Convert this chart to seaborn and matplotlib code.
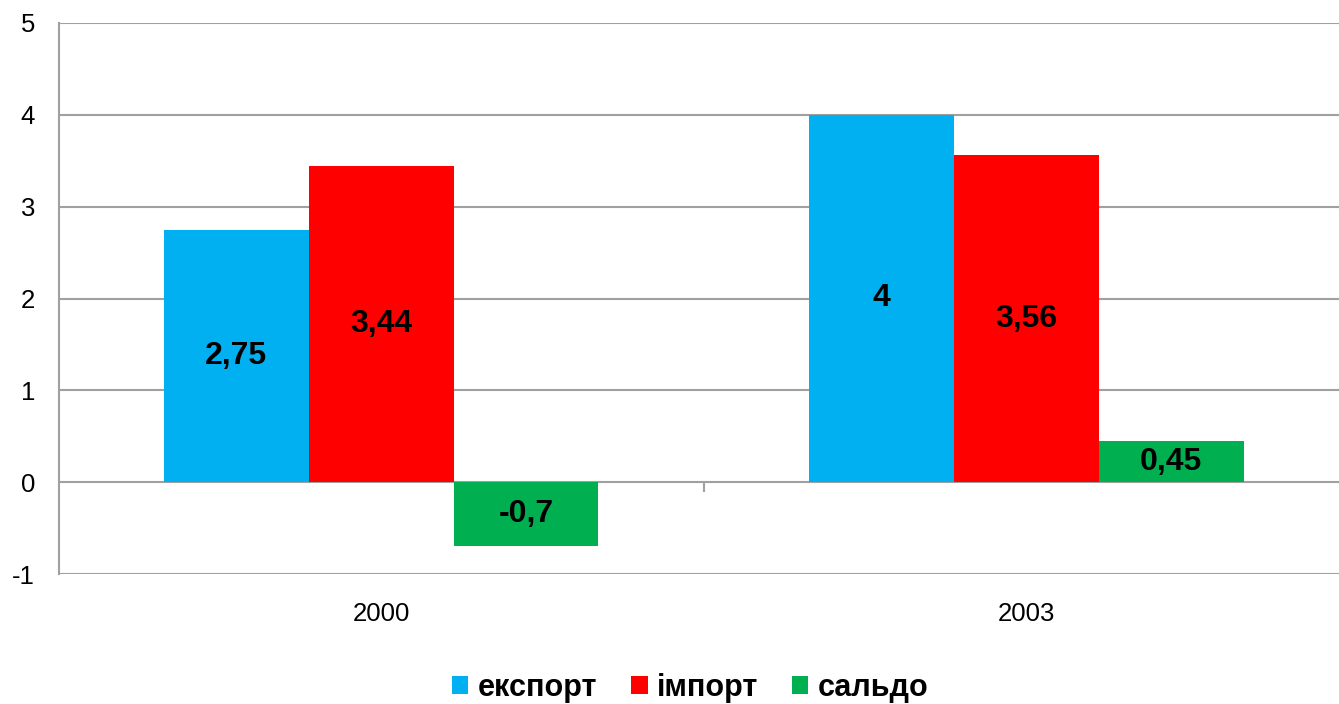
import pandas as pd
import matplotlib.pyplot as plt
import seaborn as sns
from matplotlib.patches import Patch

# Дані з діаграми
years = ['2000', '2003']
series = ['експорт', 'імпорт', 'сальдо']
eksport = [2.75, 4.0]
import_ = [3.44, 3.56]
saldo = [-0.7, 0.45]
colors = ['#00B0F0', '#FF0000', '#00B050']

df = pd.DataFrame({
    'Рік': years * 3,
    'Показник': [s for s in series for _ in years],
    'Значення': eksport + import_ + saldo,
})

sns.set_style('white')
plt.rcParams['font.family'] = ['Liberation Sans', 'DejaVu Sans']
plt.rcParams['axes.unicode_minus'] = False

fig = plt.figure(figsize=(13.39, 7.04), dpi=100)
ax = fig.add_axes([58.5 / 1339, 1 - 574 / 704, (1349 - 58.5) / 1339, (574 - 23) / 704])

sns.barplot(data=df, x='Рік', y='Значення', hue='Показник', palette=colors,
            width=0.673, saturation=1, ax=ax, legend=False, zorder=3, linewidth=0)

ax.set_ylim(-1, 5)
ax.set_xlim(-0.5, 1.5)
ax.set_yticks(range(-1, 6))
ax.grid(axis='y', color='#A0A0A0', lw=1.5, zorder=0)
ax.set_axisbelow(True)
ax.set_xlabel('')
ax.set_ylabel('')

for s in ['top', 'right', 'bottom']:
    ax.spines[s].set_visible(False)
ax.spines['left'].set_color('#A0A0A0')
ax.spines['left'].set_linewidth(1.5)

ax.tick_params(axis='y', length=7, width=1.5, color='#A0A0A0', labelsize=18.5,
               labelcolor='black', pad=10)
ax.tick_params(axis='x', length=0, labelsize=18.5, labelcolor='black', pad=20)

# Поділка між категоріями на лінії нуля
sec = ax.secondary_xaxis((0 - (-1)) / (5 - (-1)))
sec.set_xticks([0.5])
sec.set_xticklabels([''])
sec.tick_params(length=7, width=1.5, color='#A0A0A0', direction='out')
sec.spines['bottom'].set_visible(False)

# Підписи значень
for cont in ax.containers:
    ax.bar_label(cont, labels=[f'{v:g}'.replace('.', ',') for v in cont.datavalues],
                 label_type='center', fontsize=23, fontweight='bold', color='black')

handles = [Patch(facecolor=c, edgecolor='none') for c in colors]
fig.legend(handles, series, loc='center', bbox_to_anchor=(690 / 1339, 1 - 688 / 704), ncol=3,
           frameon=False, prop={'size': 22, 'weight': 'bold'}, labelcolor='black',
           handlelength=0.55, handleheight=0.55, handletextpad=0.3, columnspacing=1.1)

fig.savefig('out.png', dpi=100)
